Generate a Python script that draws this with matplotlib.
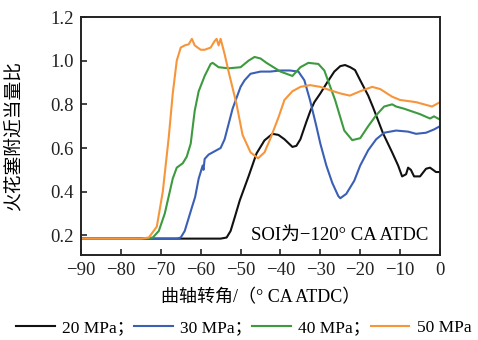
import numpy as np
import matplotlib
matplotlib.use('Agg')
import matplotlib.pyplot as plt

plt.rcParams['font.family'] = ['Liberation Serif', 'Noto Sans CJK SC']
plt.rcParams['axes.unicode_minus'] = True

# 20 MPa
x20 = [-90, -55, -53.5, -52.5, -51.5, -50.2, -48, -46, -44, -42, -40.5, -39, -37, -36, -35,
       -33.5, -32.5, -31.5, -30, -28.3, -26.5, -25, -23.8, -22.5, -21.3, -20, -18, -16.8,
       -14.3, -12, -10.5, -9.5, -8.5, -8, -7.3, -6.5, -5, -3.5, -2.5, -1, 0]
y20 = [0.185, 0.185, 0.19, 0.22, 0.28, 0.36, 0.47, 0.575, 0.635, 0.665, 0.66, 0.64, 0.605,
       0.61, 0.64, 0.72, 0.77, 0.81, 0.85, 0.90, 0.95, 0.975, 0.98, 0.97, 0.957, 0.91, 0.84,
       0.787, 0.668, 0.58, 0.52, 0.47, 0.48, 0.51, 0.50, 0.47, 0.47, 0.505, 0.51, 0.49, 0.49]

# 30 MPa
x30 = [-90, -66, -65, -64, -63, -62, -61.4, -60.5, -59.5, -59.3, -59, -58, -56.5, -55, -54,
       -53, -52, -51, -50, -49, -47.5, -45, -42.6, -40, -37.6, -35.5, -34, -32.6, -31, -30,
       -28.5, -27, -25.5, -25, -23.5, -21.5, -20, -18, -16, -14, -11, -8, -6, -3.5, -1.5, 0]
y30 = [0.185, 0.185, 0.19, 0.22, 0.28, 0.34, 0.375, 0.46, 0.52, 0.50, 0.55, 0.57, 0.585,
       0.60, 0.64, 0.71, 0.78, 0.83, 0.88, 0.91, 0.94, 0.95, 0.95, 0.955, 0.955, 0.95, 0.91,
       0.82, 0.70, 0.62, 0.52, 0.44, 0.38, 0.37, 0.39, 0.45, 0.52, 0.59, 0.64, 0.67, 0.68,
       0.675, 0.665, 0.67, 0.685, 0.70]

# 40 MPa
x40 = [-90, -74, -72, -70.5, -69, -68, -67, -66, -64.5, -63.5, -62.5, -61.5, -60.5, -59,
       -57.5, -57, -55.5, -53, -50, -48, -46.5, -45, -43.5, -40, -37, -35, -33, -30.5, -29,
       -26.3, -24, -22, -20, -18, -16, -14, -12, -11, -9, -5, -2.5, -1.5, 0]
y40 = [0.185, 0.185, 0.19, 0.22, 0.30, 0.38, 0.46, 0.51, 0.53, 0.56, 0.62, 0.77, 0.86, 0.93,
       0.985, 0.99, 0.97, 0.965, 0.97, 1.0, 1.017, 1.01, 0.99, 0.95, 0.93, 0.97, 0.99, 0.985,
       0.955, 0.82, 0.68, 0.636, 0.645, 0.70, 0.75, 0.79, 0.80, 0.79, 0.78, 0.755, 0.735,
       0.745, 0.73]

# 50 MPa
x50 = [-90, -75, -73, -71, -69.5, -68, -67, -66, -65, -64, -63, -62.2, -61.5, -60, -59,
       -57.5, -56.5, -56, -55.5, -55, -54, -53, -51, -49.5, -47.5, -45.6, -44, -42.6, -40.5,
       -39, -37, -35, -32.6, -30, -27.6, -25, -22.6, -20, -17, -15, -12, -10, -6, -2, -1, 0]
y50 = [0.185, 0.185, 0.19, 0.24, 0.40, 0.65, 0.85, 1.0, 1.06, 1.07, 1.075, 1.10, 1.07, 1.05,
       1.05, 1.06, 1.09, 1.10, 1.07, 1.10, 1.03, 0.95, 0.80, 0.66, 0.58, 0.553, 0.58, 0.64,
       0.74, 0.82, 0.86, 0.88, 0.888, 0.88, 0.865, 0.85, 0.84, 0.86, 0.88, 0.87, 0.835, 0.82,
       0.81, 0.79, 0.80, 0.81]

series = [
    (x20, y20, '#111111', '20 MPa；'),
    (x30, y30, '#3a5fb5', '30 MPa；'),
    (x40, y40, '#3d9a3f', '40 MPa；'),
    (x50, y50, '#f7953a', '50 MPa'),
]

fig = plt.figure(figsize=(4.78, 3.40), dpi=100)
ax = fig.add_axes([0.1695, 0.25, 0.751, 0.70])

for xs, ys, c, lab in series:
    ax.plot(xs, ys, color=c, lw=1.5, label=lab)

ax.set_xlim(-90, 0)
ax.set_ylim(0.11, 1.2)
ax.set_xticks(np.arange(-90, 1, 10))
ax.set_yticks([0.2, 0.4, 0.6, 0.8, 1.0, 1.2])
ax.set_yticklabels(['0.2', '0.4', '0.6', '0.8', '1.0', '1.2'])
ax.tick_params(direction='in', length=4, width=1.2, labelsize=13.5, colors='#222222', pad=5)
for s in ax.spines.values():
    s.set_linewidth(1.4)
    s.set_color('#222222')

ax.set_xlabel('曲轴转角/（° CA ATDC）', fontsize=13)
ax.xaxis.set_label_coords(0.5, -0.145)
ax.set_ylabel('火花塞附近当量比', fontsize=13.5)
ax.yaxis.set_label_coords(-0.162, 0.5)
ax.text(0.967, 0.08, 'SOI为−120° CA ATDC', transform=ax.transAxes,
        ha='right', va='center', fontsize=13.5)

fig.legend(loc='center', bbox_to_anchor=(0.51, 0.035), ncol=4, frameon=False,
           fontsize=12.5, handlelength=2.2, handletextpad=0.45, columnspacing=0.0,
           borderaxespad=0)

fig.savefig('out.png', dpi=100)
